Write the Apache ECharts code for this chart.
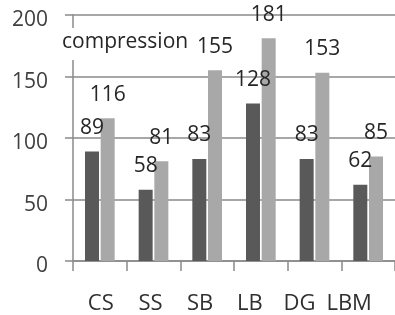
<!DOCTYPE html>
<html>
<head>
<meta charset="utf-8">
<script src="https://cdn.jsdelivr.net/npm/echarts@6/dist/echarts.min.js"></script>
<style>
  html, body { margin: 0; padding: 0; background: #fff; }
  #chart { width: 395px; height: 315px; }
</style>
</head>
<body>
<div id="chart"></div>
<script>
// data
var categories = ['CS', 'SS', 'SB', 'LB', 'DG', 'LBM'];
var darkValues = [89, 58, 83, 128, 83, 62];
var lightValues = [116, 81, 155, 181, 153, 85];
var yTicks = [0, 50, 100, 150, 200];

var font = 'Open Sans';
var chart = echarts.init(document.getElementById('chart'));

var option = {
    animation: false,
    backgroundColor: '#fff',
    textStyle: { fontFamily: font },
    title: {
        text: 'compression',
        left: 60,
        top: 28,
        padding: [4, 4, 7, 2],
        backgroundColor: '#fff',
        textStyle: { fontFamily: font, fontSize: 21, fontWeight: 'normal', color: '#262626' }
    },
    grid: [
        { left: 73, top: 15, right: -4, bottom: 54 },
        // second grid only carries the category labels, which sit a bit narrower in the reference
        { left: 76, top: 15, width: 298, bottom: 54 }
    ],
    xAxis: [
        {
            type: 'category',
            data: categories,
            gridIndex: 0,
            axisLine: { lineStyle: { color: '#8a8a8a', width: 1.5 } },
            axisTick: { show: true, length: 10, lineStyle: { color: '#8a8a8a', width: 1.5 } },
            axisLabel: { show: false }
        },
        {
            type: 'category',
            data: categories,
            gridIndex: 1,
            axisLine: { show: false },
            axisTick: { show: false },
            axisLabel: { interval: 0, hideOverlap: false, margin: 32, fontFamily: font, fontSize: 22, color: '#303030' }
        }
    ],
    yAxis: [
        {
            type: 'value',
            gridIndex: 0,
            min: yTicks[0],
            max: yTicks[yTicks.length - 1],
            interval: 50,
            axisLine: { show: true, lineStyle: { color: '#8a8a8a', width: 1.5 } },
            axisTick: { show: true, length: 8, lineStyle: { color: '#8a8a8a', width: 1.5 } },
            splitLine: { lineStyle: { color: '#8a8a8a', width: 1.5 } },
            axisLabel: {
                margin: 25,
                verticalAlign: 'top',
                lineHeight: 11,
                fontFamily: font,
                fontSize: 21,
                color: '#404040'
            }
        },
        {
            type: 'value',
            gridIndex: 1,
            show: false
        }
    ],
    series: [
        {
            name: 'dark',
            type: 'bar',
            xAxisIndex: 0,
            yAxisIndex: 0,
            data: darkValues,
            barWidth: 14,
            barGap: '12%',
            itemStyle: { color: '#595959' },
            label: { show: true, position: 'top', distance: 13, fontFamily: font, fontSize: 21, color: '#262626' }
        },
        {
            name: 'light',
            type: 'bar',
            xAxisIndex: 0,
            yAxisIndex: 0,
            data: lightValues,
            barWidth: 14,
            barGap: '12%',
            itemStyle: { color: '#a8a8a8' },
            label: { show: true, position: 'top', distance: 13, fontFamily: font, fontSize: 21, color: '#262626' }
        }
    ]
};

chart.setOption(option);
window.addEventListener('resize', function () {
    chart.resize();
});
</script>
</body>
</html>
